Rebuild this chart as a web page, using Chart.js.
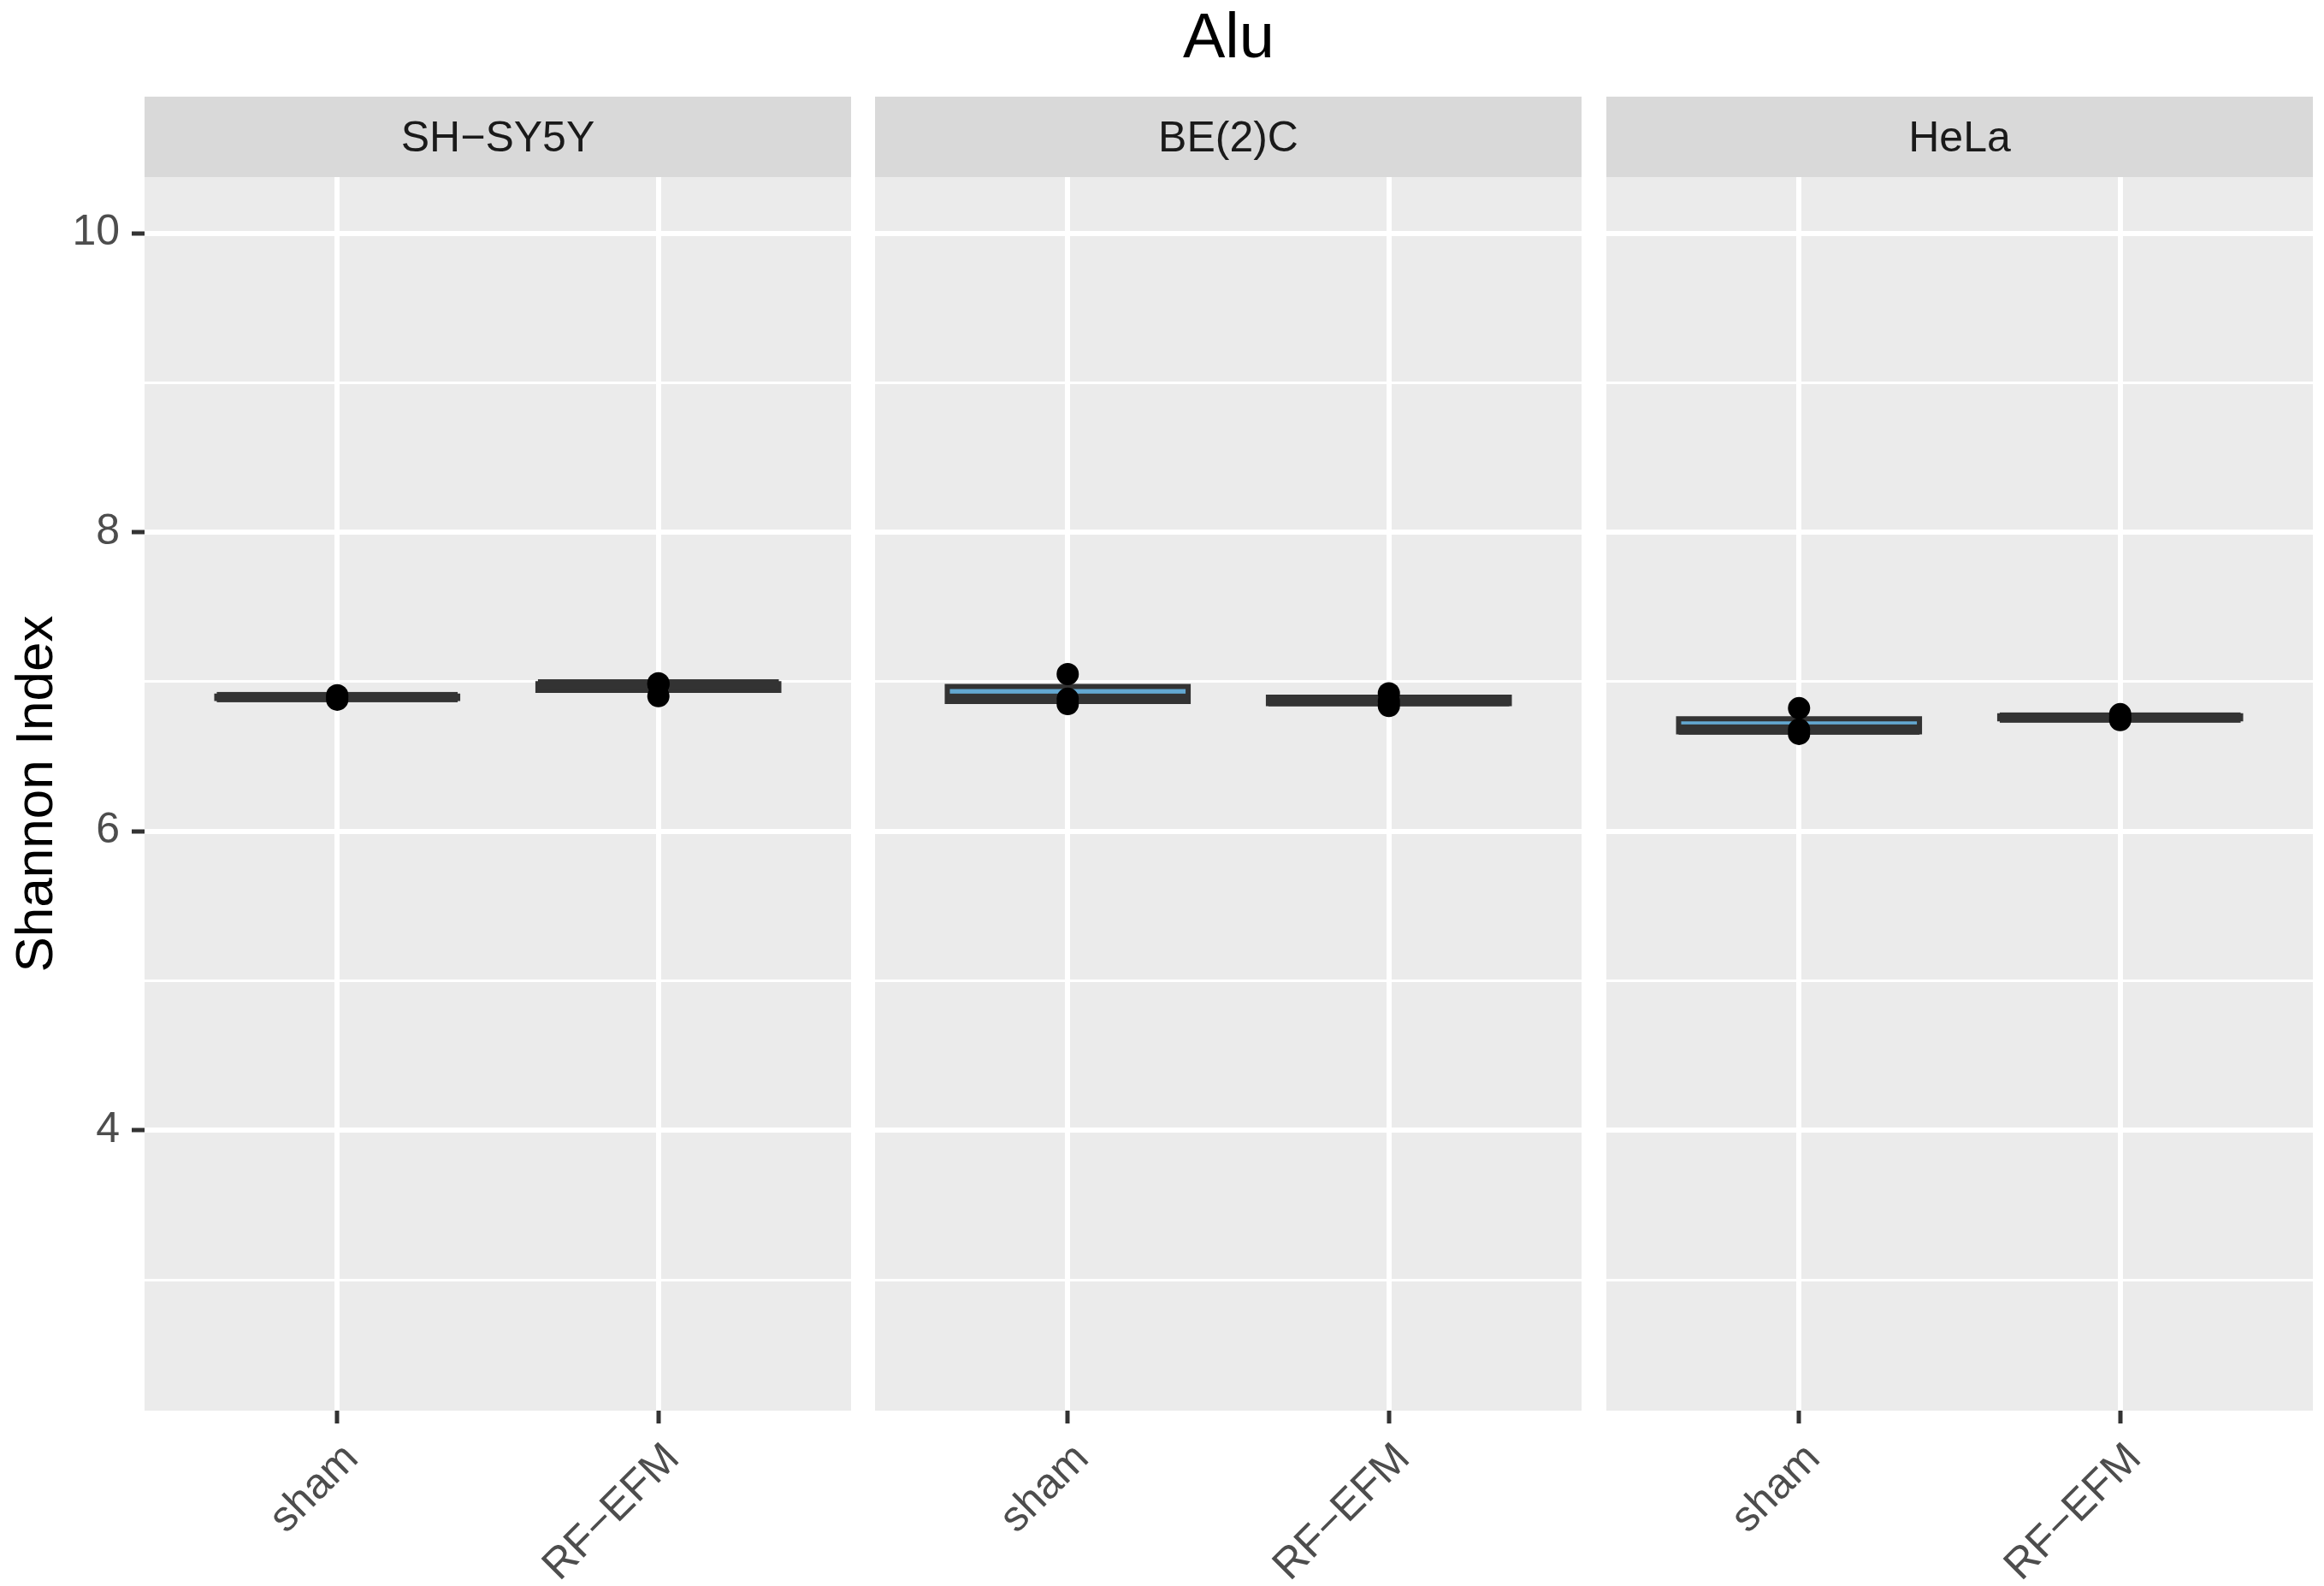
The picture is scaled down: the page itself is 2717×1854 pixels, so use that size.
<!DOCTYPE html>
<html>
<head>
<meta charset="utf-8">
<script src="https://cdn.jsdelivr.net/npm/chart.js@4.4.1/dist/chart.umd.min.js"></script>
<style>
  html, body { margin: 0; padding: 0; background: #fff; }
  body { width: 2717px; height: 1854px; position: relative; overflow: hidden;
         font-family: "Liberation Sans", Arial, sans-serif; }
  .panel { position: absolute; top: 107px; height: 1747px; }
  .strip { position: absolute; top: 113px; height: 94px; width: 826px; background: #D9D9D9;
           color: #1A1A1A; font-size: 50px; line-height: 94px; text-align: center; white-space: nowrap; }
  #title { position: absolute; left: 169px; width: 2535px; top: 0; text-align: center;
           font-size: 74px; line-height: 84px; color: #000; }
  #ytitle { position: absolute; left: 39px; top: 928px; transform: translate(-50%, -50%) rotate(-90deg);
            font-size: 62px; color: #000; white-space: nowrap; }
</style>
</head>
<body>
<div id="title">Alu</div>
<div id="ytitle">Shannon Index</div>
<div id="strips"></div>
<div id="panels"></div>
<script>
// data: three replicates per group
const cellLines = ['SH−SY5Y', 'BE(2)C', 'HeLa'];
const treatments = ['sham', 'RF−EFM'];
const shamValues = [[6.880, 6.897, 6.909], [6.851, 6.886, 7.051], [6.651, 6.680, 6.823]];
const rfefmValues = [[6.903, 6.982, 6.990], [6.838, 6.870, 6.922], [6.743, 6.760, 6.783]];
const yMajorTicks = [4, 6, 8, 10];
const yMinorTicks = [3, 5, 7, 9];
const yLimits = [2.125, 10.375];

const panelLeft = [169, 1023, 1878];
const panelWidth = 826;
const yAxisWidth = 169;
const fontFamily = '"Liberation Sans", Arial, sans-serif';
const boxFill = '#63A8D1';
const dark = '#333333';

// ggplot style quantiles (type 7)
function quantile(sorted, p) {
  const h = (sorted.length - 1) * p;
  const lo = Math.floor(h);
  const hi = Math.min(lo + 1, sorted.length - 1);
  return sorted[lo] + (h - lo) * (sorted[hi] - sorted[lo]);
}
function boxStats(values) {
  const s = values.slice().sort((a, b) => a - b);
  const q1 = quantile(s, 0.25), med = quantile(s, 0.5), q3 = quantile(s, 0.75);
  const iqr = q3 - q1;
  const lo = Math.min(...s.filter(v => v >= q1 - 1.5 * iqr));
  const hi = Math.max(...s.filter(v => v <= q3 + 1.5 * iqr));
  return { q1, med, q3, lo, hi };
}

const panelBg = {
  id: 'panelBg',
  beforeDraw(chart) {
    const { ctx, chartArea: a } = chart;
    ctx.save();
    ctx.fillStyle = '#EBEBEB';
    ctx.fillRect(a.left, a.top, a.right - a.left, a.bottom - a.top);
    ctx.restore();
  }
};

const medianLine = {
  id: 'medianLine',
  afterDatasetDraw(chart, args, opts) {
    if (args.index !== 2) return;
    const { ctx } = chart;
    const y = chart.scales.y;
    ctx.save();
    ctx.fillStyle = dark;
    args.meta.data.forEach((bar, i) => {
      const py = y.getPixelForValue(opts.values[i]);
      ctx.fillRect(bar.x - bar.width / 2, py - 6, bar.width, 12);
    });
    ctx.restore();
  }
};

const allYTicks = yMinorTicks.concat(yMajorTicks).sort((a, b) => a - b);

cellLines.forEach((name, p) => {
  const strip = document.createElement('div');
  strip.className = 'strip';
  strip.style.left = panelLeft[p] + 'px';
  strip.textContent = name;
  document.getElementById('strips').appendChild(strip);

  const first = p === 0;
  const wrap = document.createElement('div');
  wrap.className = 'panel';
  wrap.style.left = (first ? panelLeft[p] - yAxisWidth : panelLeft[p]) + 'px';
  wrap.style.width = (first ? panelWidth + yAxisWidth : panelWidth) + 'px';
  const canvas = document.createElement('canvas');
  wrap.appendChild(canvas);
  document.getElementById('panels').appendChild(wrap);

  const groups = [shamValues[p], rfefmValues[p]];
  const stats = groups.map(boxStats);
  const points = [];
  groups.forEach((vals, i) => vals.forEach(v => points.push({ x: i + 1, y: v })));

  new Chart(canvas, {
    type: 'bar',
    data: {
      datasets: [
        { // whiskers
          data: stats.map((s, i) => ({ x: i + 1, y: [s.lo, s.hi] })),
          backgroundColor: dark, borderWidth: 0, barThickness: 6,
          grouped: false, order: 4
        },
        { // box outline
          data: stats.map((s, i) => ({ x: i + 1, y: [s.q1, s.q3] })),
          backgroundColor: dark, borderWidth: 0, inflateAmount: 3,
          barPercentage: 0.75, categoryPercentage: 1, grouped: false, order: 3
        },
        { // box fill
          data: stats.map((s, i) => ({ x: i + 1, y: [s.q1, s.q3] })),
          backgroundColor: boxFill, borderWidth: 0, inflateAmount: -3,
          barPercentage: 0.75, categoryPercentage: 1, grouped: false, order: 2
        },
        {
          type: 'scatter',
          data: points,
          pointRadius: 13, pointHoverRadius: 13,
          backgroundColor: '#000000', borderWidth: 0, order: 1
        }
      ]
    },
    options: {
      responsive: true,
      maintainAspectRatio: false,
      animation: false,
      events: [],
      layout: { autoPadding: false, padding: { top: 100, left: 0, right: 0, bottom: 0 } },
      plugins: {
        legend: { display: false },
        tooltip: { enabled: false },
        medianLine: { values: stats.map(s => s.med) }
      },
      scales: {
        x: {
          type: 'linear', min: 0.4, max: 2.6, offset: false,
          afterBuildTicks: s => { s.ticks = treatments.map((t, i) => ({ value: i + 1 })); },
          afterFit: s => { s.height = 205; },
          border: { display: false },
          grid: { offset: false, color: '#FFFFFF', lineWidth: 6, drawTicks: true,
                  tickColor: dark, tickWidth: 5, tickLength: 15 },
          ticks: {
            autoSkip: false, minRotation: 45, maxRotation: 45, padding: 12, labelOffset: 17,
            color: '#4D4D4D', font: { family: fontFamily, size: 50 },
            callback: v => treatments[v - 1]
          }
        },
        y: {
          min: yLimits[0], max: yLimits[1], beginAtZero: false,
          afterBuildTicks: s => { s.ticks = allYTicks.map(v => ({ value: v })); },
          afterFit: s => { s.width = first ? yAxisWidth : 0; },
          border: { display: false },
          grid: {
            color: '#FFFFFF',
            lineWidth: c => (c.tick && yMajorTicks.includes(c.tick.value)) ? 6 : 3,
            drawTicks: first,
            tickColor: c => (c.tick && yMajorTicks.includes(c.tick.value)) ? dark : 'rgba(0,0,0,0)',
            tickWidth: 5, tickLength: 15
          },
          ticks: {
            display: first, padding: 14, color: '#4D4D4D',
            font: { family: fontFamily, size: 50 },
            callback: v => yMajorTicks.includes(v) ? String(v) : ''
          }
        }
      }
    },
    plugins: [panelBg, medianLine]
  });
});
</script>
</body>
</html>
